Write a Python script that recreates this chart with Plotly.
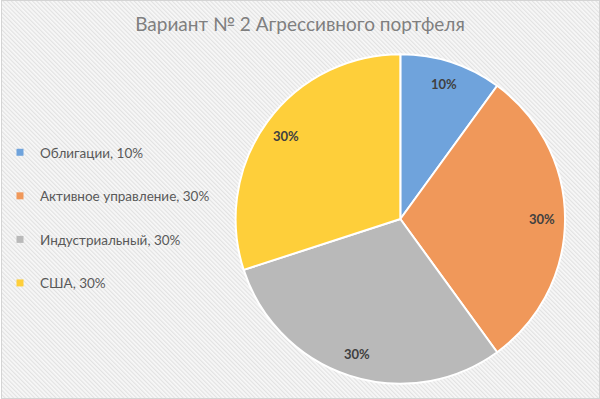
import base64
import math
import plotly.graph_objects as go

title = "Вариант № 2 Агрессивного портфеля"
categories = ["Облигации", "Активное управление", "Индустриальный", "США"]
shares = [10, 30, 30, 30]
colors = ["#6fa3dc", "#f0985a", "#b9b9b9", "#fecf3a"]

legend_labels = [f"{c}, {v}%" for c, v in zip(categories, shares)]

W, H = 600, 399
svg = (
    f'<svg xmlns="http://www.w3.org/2000/svg" width="{W}" height="{H}">'
    '<defs><pattern id="p" width="3" height="3" patternUnits="userSpaceOnUse" patternTransform="rotate(-45)">'
    '<rect width="3" height="3" fill="#f8f8f8"/><rect width="1.2" height="3" fill="#e2e2e2"/>'
    '</pattern></defs>'
    f'<rect x="0" y="0" width="{W}" height="{H}" fill="url(#p)"/>'
    f'<rect x="0.5" y="0.5" width="{W-1}" height="{H-1}" fill="none" stroke="#d4d4d4" stroke-width="1"/>'
    '</svg>'
)
bg_src = "data:image/svg+xml;base64," + base64.b64encode(svg.encode()).decode()

# pie geometry (paper fractions)
dom_x = [235 / W, 565 / W]
dom_y = [1 - 384 / H, 1 - 54 / H]
cx, cy = sum(dom_x) / 2, sum(dom_y) / 2
rx, ry = (dom_x[1] - dom_x[0]) / 2, (dom_y[1] - dom_y[0]) / 2

fig = go.Figure()
fig.add_trace(go.Pie(
    labels=categories,
    values=shares,
    sort=False,
    direction="clockwise",
    rotation=0,
    marker=dict(colors=colors, line=dict(color="white", width=2)),
    textinfo="none",
    showlegend=False,
    hoverinfo="skip",
    domain=dict(x=dom_x, y=dom_y),
))

# data labels near the outer part of each slice
total = sum(shares)
cum = 0
for v in shares:
    mid = (cum + v / 2) / total * 2 * math.pi
    cum += v
    fig.add_annotation(
        x=cx + 0.86 * rx * math.sin(mid), y=cy + 0.86 * ry * math.cos(mid),
        xref="paper", yref="paper", xanchor="center", yanchor="middle",
        text=f"<b>{v}%</b>", showarrow=False,
        font=dict(family="Lato, Open Sans, sans-serif", size=13, color="#404040"),
    )

for i, (lab, col) in enumerate(zip(legend_labels, colors)):
    fig.add_trace(go.Scatter(
        x=[None], y=[None], mode="markers",
        marker=dict(symbol="square", size=7, color=col),
        name=lab, legendgroup=f"g{i}", showlegend=True,
    ))

fig.update_layout(
    width=W, height=H,
    margin=dict(l=0, r=0, t=0, b=0),
    paper_bgcolor="rgba(0,0,0,0)",
    plot_bgcolor="rgba(0,0,0,0)",
    title=dict(text=title, x=0.5, xanchor="center", y=1 - 24 / H, yanchor="middle",
               font=dict(family="Lato, Open Sans, sans-serif", size=19, color="#7f7f7f")),
    legend=dict(x=-1 / W, y=1 - 137 / H, xanchor="left", yanchor="top", itemwidth=30,
                font=dict(family="Lato, Open Sans, sans-serif", size=13.5, color="#595959"),
                tracegroupgap=23, bgcolor="rgba(0,0,0,0)", itemclick=False),
    xaxis=dict(visible=False),
    yaxis=dict(visible=False),
    images=[dict(source=bg_src, xref="paper", yref="paper", x=0, y=1, sizex=1, sizey=1,
                 xanchor="left", yanchor="top", sizing="stretch", layer="below")],
)

fig.write_html("out.html", config={"displayModeBar": False},
               post_script="document.body.style.margin='0';")
